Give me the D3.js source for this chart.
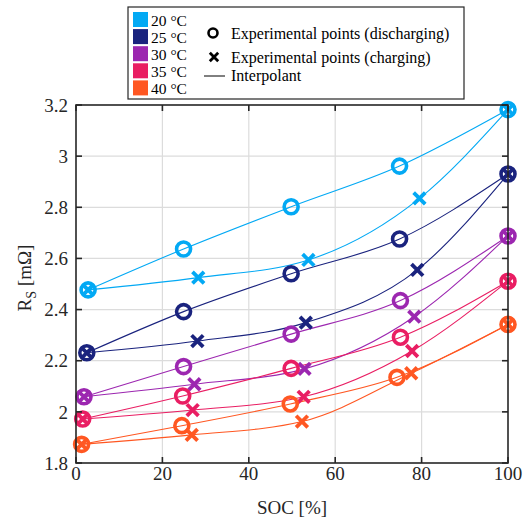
<!DOCTYPE html>
<html>
<head>
<meta charset="utf-8">
<script src="https://cdn.jsdelivr.net/npm/d3@7"></script>
<style>
  html, body { margin: 0; padding: 0; background: #fff; }
  svg text { font-family: "Liberation Serif", "Times New Roman", "DejaVu Serif", serif; }
</style>
</head>
<body>
<svg id="chart" width="525" height="520"></svg>
<script>
// ---- Data ----
const temperatures = ["20 °C", "25 °C", "30 °C", "35 °C", "40 °C"];
const colors = ["#03A9F4", "#1A237E", "#9C27B0", "#E91E63", "#FF5722"];

// Discharging experimental points [SOC %, R_S mΩ]
const dis20 = [[2.8, 2.477], [24.9, 2.637], [49.8, 2.802], [74.9, 2.961], [100, 3.182]];
const dis25 = [[2.5, 2.231], [24.9, 2.392], [49.8, 2.540], [74.9, 2.676], [100, 2.930]];
const dis30 = [[1.85, 2.059], [24.9, 2.177], [49.8, 2.304], [75.1, 2.435], [100, 2.688]];
const dis35 = [[1.55, 1.972], [24.7, 2.062], [49.8, 2.170], [75.1, 2.292], [100, 2.511]];
const dis40 = [[1.3, 1.873], [24.5, 1.946], [49.6, 2.031], [74.3, 2.135], [100, 2.342]];

// Charging experimental points [SOC %, R_S mΩ]
const chg20 = [[2.8, 2.477], [28.3, 2.525], [53.8, 2.594], [79.5, 2.835], [100, 3.182]];
const chg25 = [[2.5, 2.231], [28.1, 2.277], [53.2, 2.349], [79.0, 2.555], [100, 2.930]];
const chg30 = [[1.85, 2.059], [27.4, 2.108], [52.9, 2.168], [78.3, 2.372], [100, 2.688]];
const chg35 = [[1.55, 1.972], [27.0, 2.007], [52.7, 2.059], [77.8, 2.238], [100, 2.511]];
const chg40 = [[1.3, 1.873], [26.8, 1.910], [52.3, 1.962], [77.6, 2.151], [100, 2.342]];

const discharging = [dis20, dis25, dis30, dis35, dis40];
const charging = [chg20, chg25, chg30, chg35, chg40];

const xTicks = [0, 20, 40, 60, 80, 100];
const yTicks = [1.8, 2.0, 2.2, 2.4, 2.6, 2.8, 3.0, 3.2];
const yTickLabels = ["1.8", "2", "2.2", "2.4", "2.6", "2.8", "3", "3.2"];
const legendExtra = ["Experimental points (discharging)", "Experimental points (charging)", "Interpolant"];

// ---- Layout ----
const svg = d3.select("#chart");
const pL = 76, pR = 508, pT = 105, pB = 463;
const x = d3.scaleLinear().domain([0, 100]).range([pL, pR]);
const y = d3.scaleLinear().domain([1.8, 3.2]).range([pB, pT]);
const ink = "#262626";

// grid
const grid = svg.append("g");
grid.selectAll(".gx").data(xTicks.slice(1, -1)).join("line")
  .attr("x1", d => x(d)).attr("x2", d => x(d)).attr("y1", pT).attr("y2", pB)
  .attr("stroke", "#dcdcdc").attr("stroke-width", 1.2);
grid.selectAll(".gy").data(yTicks.slice(1, -1)).join("line")
  .attr("y1", d => y(d)).attr("y2", d => y(d)).attr("x1", pL).attr("x2", pR)
  .attr("stroke", "#dcdcdc").attr("stroke-width", 1.2);

// lines
const line = d3.line().x(d => x(d[0])).y(d => y(d[1])).curve(d3.curveMonotoneX);
const lines = svg.append("g");
temperatures.forEach((t, i) => {
  [discharging[i], charging[i]].forEach(s => {
    lines.append("path").attr("d", line(s)).attr("fill", "none")
      .attr("stroke", colors[i]).attr("stroke-width", 1.1);
  });
});

// markers
const marks = svg.append("g");
function cross(g, cx, cy, h, col, sw) {
  g.append("path")
    .attr("d", `M${cx - h},${cy - h}L${cx + h},${cy + h}M${cx - h},${cy + h}L${cx + h},${cy - h}`)
    .attr("stroke", col).attr("stroke-width", sw).attr("fill", "none");
}
temperatures.forEach((t, i) => {
  discharging[i].forEach(d => {
    marks.append("circle").attr("cx", x(d[0])).attr("cy", y(d[1])).attr("r", 7)
      .attr("fill", "none").attr("stroke", colors[i]).attr("stroke-width", 3.6);
  });
  charging[i].forEach(d => cross(marks, x(d[0]), y(d[1]), 5.8, colors[i], 3.8));
});

// axes box
const ax = svg.append("g");
ax.append("rect").attr("x", pL).attr("y", pT).attr("width", pR - pL).attr("height", pB - pT)
  .attr("fill", "none").attr("stroke", ink).attr("stroke-width", 1.6);
const tl = 6;
xTicks.forEach(v => {
  ax.append("line").attr("x1", x(v)).attr("x2", x(v)).attr("y1", pB).attr("y2", pB - tl).attr("stroke", ink).attr("stroke-width", 1.6);
  ax.append("line").attr("x1", x(v)).attr("x2", x(v)).attr("y1", pT).attr("y2", pT + tl).attr("stroke", ink).attr("stroke-width", 1.6);
  ax.append("text").attr("x", x(v)).attr("y", 480).attr("text-anchor", "middle").attr("font-size", 19).attr("fill", ink).text(v);
});
yTicks.forEach((v, k) => {
  ax.append("line").attr("y1", y(v)).attr("y2", y(v)).attr("x1", pL).attr("x2", pL + tl).attr("stroke", ink).attr("stroke-width", 1.6);
  ax.append("line").attr("y1", y(v)).attr("y2", y(v)).attr("x1", pR).attr("x2", pR - tl).attr("stroke", ink).attr("stroke-width", 1.6);
  ax.append("text").attr("x", 68).attr("y", y(v)).attr("dy", "0.35em").attr("text-anchor", "end").attr("font-size", 19).attr("fill", ink).text(yTickLabels[k]);
});

// axis labels
svg.append("text").attr("x", (pL + pR) / 2).attr("y", 514).attr("text-anchor", "middle")
  .attr("font-size", 19).attr("fill", ink).text("SOC [%]");
const yl = svg.append("text").attr("transform", "translate(31,278) rotate(-90)")
  .attr("text-anchor", "middle").attr("font-size", 19).attr("fill", ink);
yl.append("tspan").text("R");
yl.append("tspan").attr("font-size", 14).attr("dy", 5).text("S");
yl.append("tspan").attr("dy", -5).text(" [mΩ]");

// legend
const lg = svg.append("g");
lg.append("rect").attr("x", 128).attr("y", 7).attr("width", 336).attr("height", 92)
  .attr("fill", "#fff").attr("stroke", ink).attr("stroke-width", 1.2);
temperatures.forEach((t, i) => {
  const yy = 12 + i * 17.1;
  lg.append("rect").attr("x", 133).attr("y", yy).attr("width", 15).attr("height", 15).attr("fill", colors[i]);
  lg.append("text").attr("x", 151).attr("y", yy + 14).attr("font-size", 15.5).attr("fill", "#000").text(t);
});
lg.append("circle").attr("cx", 213).attr("cy", 33).attr("r", 4.5).attr("fill", "none").attr("stroke", "#000").attr("stroke-width", 2.6);
cross(lg, 214, 57, 4.2, "#000", 2.8);
lg.append("line").attr("x1", 204).attr("x2", 225).attr("y1", 76).attr("y2", 76).attr("stroke", "#000").attr("stroke-width", 1);
[39, 63, 81].forEach((yy, k) => {
  lg.append("text").attr("x", 231).attr("y", yy).attr("font-size", 16).attr("fill", "#000").text(legendExtra[k]);
});
</script>
</body>
</html>
